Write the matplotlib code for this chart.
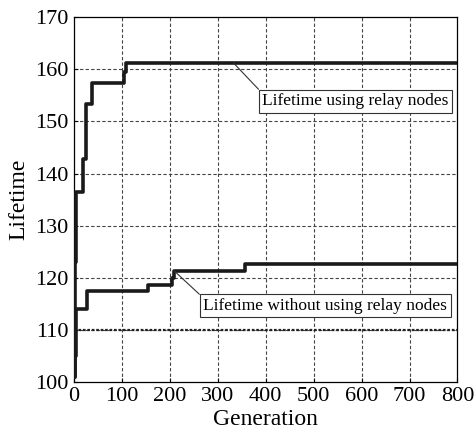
import matplotlib
matplotlib.use("Agg")
import matplotlib.pyplot as plt

# Data
relay_gen = [0, 1, 2, 3, 3.5, 19, 25, 37, 105, 108, 800]
relay_life = [101, 118, 123, 133, 136.5, 142.7, 153.4, 157.3, 159.5, 161.2, 161.2]
norelay_gen = [0, 2, 3.5, 26.5, 155, 204, 208, 357, 800]
norelay_life = [101, 105, 113.9, 117.5, 118.6, 120.0, 121.3, 122.7, 122.7]
baseline = 110
xticks = [0, 100, 200, 300, 400, 500, 600, 700, 800]
yticks = [100, 110, 120, 130, 140, 150, 160, 170]

plt.rcParams['font.family'] = ['Liberation Serif', 'DejaVu Serif']

fig = plt.figure(figsize=(4.75, 4.32), dpi=100)
ax = fig.add_axes([0.156, 0.116, 0.807, 0.844])

ax.set_xlim(0, 800)
ax.set_ylim(100, 170)
ax.set_xticks(xticks)
ax.set_yticks(yticks)
ax.tick_params(direction='in', length=3, labelsize=16)
ax.tick_params(axis='x', pad=4)
ax.tick_params(axis='y', pad=4)

for y in yticks[1:-1]:
    ax.axhline(y, color='#444444', lw=0.8, ls=(0, (3, 2)), zorder=1)
for x in xticks[1:-1]:
    ax.axvline(x, color='#444444', lw=0.8, ls=(0, (3, 2)), zorder=1)

ax.axhline(baseline, color='#222222', lw=1.6, ls=(0, (1.2, 0.8)), zorder=2)

ax.plot(relay_gen, relay_life, drawstyle='steps-post', color='#1a1a1a', lw=2.6, zorder=3)
ax.plot(norelay_gen, norelay_life, drawstyle='steps-post', color='#1a1a1a', lw=2.6, zorder=3)

bbox = dict(boxstyle='square,pad=0.2', fc='white', ec='#333333', lw=0.8)
ax.annotate('Lifetime using relay nodes', xy=(333, 161.2), xytext=(587, 153.9),
            ha='center', va='center', fontsize=12.5, bbox=bbox, zorder=5,
            arrowprops=dict(arrowstyle='-', color='#333333', lw=0.8, relpos=(0, 1),
                            shrinkA=0, shrinkB=0))
ax.annotate('Lifetime without using relay nodes', xy=(209, 121.3), xytext=(524, 114.6),
            ha='center', va='center', fontsize=12.5, bbox=bbox, zorder=5,
            arrowprops=dict(arrowstyle='-', color='#333333', lw=0.8, relpos=(0, 1),
                            shrinkA=0, shrinkB=0))

ax.set_xlabel('Generation', fontsize=17, labelpad=2)
ax.set_ylabel('Lifetime', fontsize=17, labelpad=4)
for s in ax.spines.values():
    s.set_linewidth(0.9)

fig.savefig('out.png', dpi=100)
